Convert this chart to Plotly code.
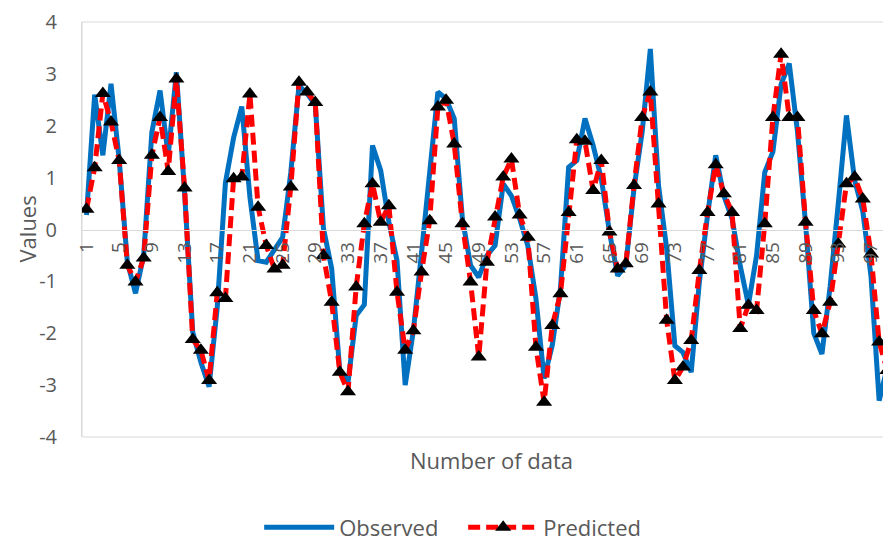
import plotly.graph_objects as go

# ---- data ----
x_index = list(range(1, 101))

observed = [
    0.28, 2.60, 1.43, 2.81, 1.35, -0.63, -1.23, -0.50, 1.88, 2.68,
    1.43, 3.03, 0.72, -1.98, -2.56, -3.03, -1.50, 0.90, 1.77, 2.37,
    0.62, -0.60, -0.63, -0.40, -0.15, 1.10, 2.77, 2.62, 2.40, 0.02,
    -0.75, -2.73, -2.95, -1.66, -1.45, 1.62, 1.14, 0.15, -0.60, -3.00,
    -1.95, -0.45, 1.00, 2.65, 2.52, 2.14, 0.21, -0.69, -0.92, -0.50,
    -0.31, 0.88, 0.65, 0.21, -0.31, -1.33, -2.87, -2.23, -1.14, 1.20,
    1.33, 2.14, 1.62, 0.98, -0.05, -0.89, -0.69, 0.79, 1.88, 3.48,
    0.85, -0.37, -2.24, -2.37, -2.75, -1.01, 0.27, 1.43, 0.65, 0.21,
    -0.70, -1.45, -0.50, 1.10, 1.50, 2.80, 3.20, 1.90, 0.10, -2.00,
    -2.40, -1.10, 0.50, 2.20, 0.95, 0.35, -0.90, -3.30, -2.65, -2.40,
]

predicted = [
    0.39, 1.19, 2.62, 2.07, 1.33, -0.69, -1.01, -0.55, 1.43, 2.16,
    1.12, 2.90, 0.80, -2.12, -2.33, -2.91, -1.22, -1.33, 0.98, 1.01,
    2.61, 0.43, -0.31, -0.76, -0.69, 0.82, 2.84, 2.65, 2.45, -0.50,
    -1.40, -2.75, -3.13, -1.11, 0.11, 0.88, 0.14, 0.46, -1.21, -2.33,
    -1.95, -0.82, 0.17, 2.36, 2.49, 1.65, 0.11, -1.01, -2.46, -0.63,
    0.24, 1.01, 1.36, 0.28, -0.15, -2.27, -3.33, -1.85, -1.24, 0.33,
    1.73, 1.70, 0.75, 1.33, -0.05, -0.76, -0.66, 0.85, 2.16, 2.65,
    0.49, -1.75, -2.91, -2.65, -2.14, -0.79, 0.33, 1.25, 0.69, 0.33,
    -1.91, -1.46, -1.56, 0.11, 2.16, 3.38, 2.16, 2.16, 0.14, -1.56,
    -2.01, -1.40, -0.28, 0.88, 1.01, 0.59, -0.47, -2.17, -2.72, -1.45,
]

x_tick_values = list(range(1, 101, 4))
x_tick_labels = [str(v) for v in x_tick_values]
y_tick_values = [-4, -3, -2, -1, 0, 1, 2, 3, 4]
y_tick_labels = ["-4", "-3", "-2", "-1", "0", "1", "2", "3", "4"]

FONT = "Open Sans"
TXT = "#595959"
GRID = "#d9d9d9"

fig = go.Figure()

fig.add_trace(go.Scatter(
    x=x_index, y=observed, name="Observed", mode="lines",
    line=dict(color="#0070C0", width=5),
))
fig.add_trace(go.Scatter(
    x=x_index, y=predicted, name="Predicted", mode="lines+markers",
    line=dict(color="#FF0000", width=5, dash="12px,6px"),
    marker=dict(symbol="triangle-up", color="black", size=14),
))

# the page body adds an 8px offset, so the figure is drawn 8px smaller
fig.update_layout(
    width=883, height=532,
    margin=dict(l=74, r=0, t=14, b=103, autoexpand=False),
    paper_bgcolor="white", plot_bgcolor="white",
    font=dict(family=FONT, color=TXT),
    showlegend=True,
    legend=dict(
        orientation="h", x=0.219, xanchor="left", y=-0.218, yanchor="middle",
        font=dict(size=22, color=TXT, family=FONT), itemwidth=70,
        entrywidth=119, entrywidthmode="pixels",
        bgcolor="rgba(0,0,0,0)",
    ),
    xaxis=dict(
        range=[0.45, 99.45], anchor="free", position=0.5, automargin=False,
        tickmode="array", tickvals=x_tick_values, ticktext=x_tick_labels,
        tickangle=-90, tickfont=dict(size=19, color=TXT, family=FONT),
        showgrid=False, zeroline=False, showline=True, linecolor=GRID, linewidth=1,
        ticks="", ticklabelstandoff=4,
    ),
    yaxis=dict(
        range=[-4, 4], tickmode="array", tickvals=y_tick_values, ticktext=y_tick_labels,
        automargin=False,
        tickfont=dict(size=20, color=TXT, family=FONT),
        showgrid=False, zeroline=False, showline=True, linecolor=GRID, linewidth=1,
        ticks="", ticklabelstandoff=20,
    ),
    shapes=[dict(type="rect", xref="paper", yref="paper", x0=0, x1=1, y0=0, y1=1,
                 line=dict(color=GRID, width=1), layer="below")],
    annotations=[
        dict(text="Number of data", xref="paper", yref="paper", x=0.5056, y=-0.0554,
             xanchor="center", yanchor="middle", showarrow=False,
             font=dict(size=22, color=TXT, family=FONT)),
        dict(text="Values", xref="paper", yref="paper", x=-0.0692, y=0.5,
             xanchor="center", yanchor="middle", textangle=-90, showarrow=False,
             font=dict(size=22, color=TXT, family=FONT)),
    ],
)

fig.write_html("out.html")
